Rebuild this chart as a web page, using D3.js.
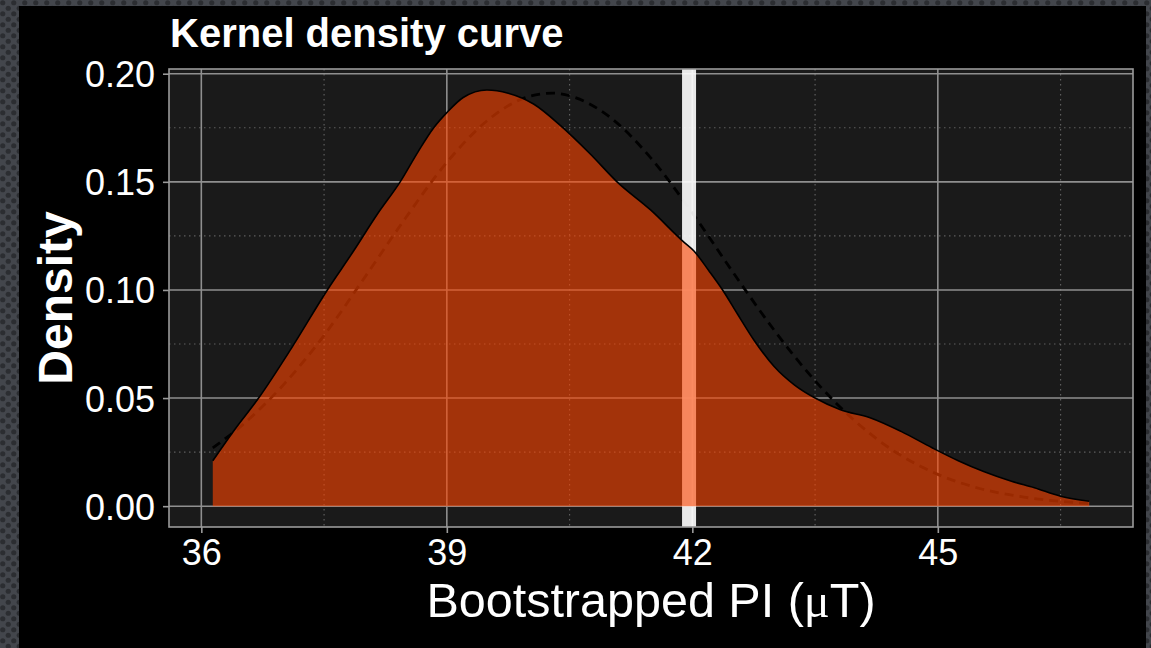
<!DOCTYPE html>
<html>
<head>
<meta charset="utf-8">
<script src="https://cdn.jsdelivr.net/npm/d3@7"></script>
<style>
  html, body { margin: 0; padding: 0; background: #3a3d42; }
  svg { display: block; }
</style>
</head>
<body>
<svg id="chart"></svg>
<script>
// kernel density
var kdeX = [36.14, 36.40, 36.70, 37.10, 37.54, 37.86, 38.15, 38.43, 38.65, 38.84, 39.00, 39.20, 39.49, 39.75, 40.06, 40.39, 40.75, 41.08, 41.49, 41.90, 42.02, 42.20, 42.37, 42.55, 42.75, 43.00, 43.25, 43.50, 43.81, 44.18, 44.55, 44.93, 45.25, 45.56, 45.90, 46.18, 46.50, 46.85];
var kdeY = [0.021, 0.035, 0.050, 0.073, 0.100, 0.118, 0.135, 0.150, 0.164, 0.175, 0.182, 0.189, 0.1925, 0.191, 0.186, 0.176, 0.163, 0.150, 0.137, 0.122, 0.118, 0.109, 0.100, 0.089, 0.077, 0.0646, 0.056, 0.050, 0.0446, 0.0408, 0.0346, 0.027, 0.021, 0.016, 0.0115, 0.0085, 0.0046, 0.0023];

// dashed reference curve
var refX = [36.14, 36.5, 37.0, 37.5, 38.0, 38.5, 39.0, 39.5, 40.0, 40.3, 40.5, 41.0, 41.5, 42.0, 42.5, 43.0, 43.5, 44.0, 44.5, 45.0, 45.5, 46.0, 46.5, 46.85];
var refY = [0.027, 0.0375, 0.056, 0.079, 0.106, 0.1335, 0.159, 0.1785, 0.1894, 0.191, 0.1898, 0.1797, 0.1607, 0.1356, 0.108, 0.0814, 0.058, 0.039, 0.0246, 0.0147, 0.0083, 0.0045, 0.0022, 0.0013];

var observed = 41.96; // vertical marker

var xTicks = [36, 39, 42, 45];
var xMinor = [37.5, 40.5, 43.5, 46.5];
var yTicks = [0, 0.05, 0.10, 0.15, 0.20];
var yMinor = [0.025, 0.075, 0.125, 0.175];

var titleText = "Kernel density curve";
var xTitle = "Bootstrapped PI (";
var yTitle = "Density";

var width = 1151, height = 648;
var font = "'Liberation Sans', Arial, Helvetica, sans-serif";

var svg = d3.select("#chart").attr("width", width).attr("height", height);

// dotted backdrop
var defs = svg.append("defs");
var pat = defs.append("pattern")
    .attr("id", "dots")
    .attr("width", 11).attr("height", 11)
    .attr("patternUnits", "userSpaceOnUse");
pat.append("rect").attr("width", 11).attr("height", 11).attr("fill", "#43464c");
pat.append("circle").attr("cx", 2.75).attr("cy", 2.75).attr("r", 2.6).attr("fill", "#2b2d31");
pat.append("circle").attr("cx", 8.25).attr("cy", 8.25).attr("r", 2.6).attr("fill", "#2b2d31");

svg.append("rect").attr("width", width).attr("height", height).attr("fill", "url(#dots)");
svg.append("rect")
    .attr("x", 19).attr("y", 6)
    .attr("width", 1127).attr("height", height - 6)
    .attr("fill", "#000");

var pl = 169, pr = 1133, pt = 69, pb = 527;

var x = d3.scaleLinear().domain([35.605, 47.385]).range([pl, pr]);
var y = d3.scaleLinear().domain([-0.00963, 0.20218]).range([pb, pt]);

svg.append("rect")
    .attr("x", pl).attr("y", pt)
    .attr("width", pr - pl).attr("height", pb - pt)
    .attr("fill", "#1a1a1a");

var grid = svg.append("g");
grid.selectAll(".xmin").data(xMinor).enter().append("line")
    .attr("x1", d => x(d)).attr("x2", d => x(d))
    .attr("y1", pt).attr("y2", pb)
    .attr("stroke", "#5e5e5e").attr("stroke-width", 1.2)
    .attr("stroke-dasharray", "1.5,3.5");
grid.selectAll(".ymin").data(yMinor).enter().append("line")
    .attr("x1", pl).attr("x2", pr)
    .attr("y1", d => y(d)).attr("y2", d => y(d))
    .attr("stroke", "#5e5e5e").attr("stroke-width", 1.2)
    .attr("stroke-dasharray", "1.5,3.5");
grid.selectAll(".xmaj").data(xTicks).enter().append("line")
    .attr("x1", d => x(d)).attr("x2", d => x(d))
    .attr("y1", pt).attr("y2", pb)
    .attr("stroke", "#8f8f8f").attr("stroke-width", 1.6);
grid.selectAll(".ymaj").data(yTicks).enter().append("line")
    .attr("x1", pl).attr("x2", pr)
    .attr("y1", d => y(d)).attr("y2", d => y(d))
    .attr("stroke", "#8f8f8f").attr("stroke-width", 1.6);

var refData = refX.map((d, i) => [d, refY[i]]);
var kdeData = kdeX.map((d, i) => [d, kdeY[i]]);

var line = d3.line()
    .x(d => x(d[0])).y(d => y(d[1]))
    .curve(d3.curveMonotoneX);

svg.append("path")
    .datum(refData)
    .attr("d", line)
    .attr("fill", "none")
    .attr("stroke", "#000")
    .attr("stroke-width", 2.8)
    .attr("stroke-dasharray", "9,6");

svg.append("line")
    .attr("x1", x(observed)).attr("x2", x(observed))
    .attr("y1", pt).attr("y2", pb)
    .attr("stroke", "#fff").attr("stroke-opacity", 0.9)
    .attr("stroke-width", 14);

var area = d3.area()
    .x(d => x(d[0])).y0(y(0)).y1(d => y(d[1]))
    .curve(d3.curveMonotoneX);

svg.append("path")
    .datum(kdeData)
    .attr("d", area)
    .attr("fill", "#ff4500")
    .attr("fill-opacity", 0.6);

svg.append("path")
    .datum(kdeData)
    .attr("d", line)
    .attr("fill", "none")
    .attr("stroke", "#000")
    .attr("stroke-width", 1.6);

svg.append("rect")
    .attr("x", pl).attr("y", pt)
    .attr("width", pr - pl).attr("height", pb - pt)
    .attr("fill", "none")
    .attr("stroke", "#9a9a9a").attr("stroke-width", 1.6);

// axes
var yAxis = svg.append("g")
    .attr("transform", "translate(" + pl + ",0)")
    .call(d3.axisLeft(y).tickValues(yTicks).tickFormat(d3.format(".2f")).tickSize(6).tickPadding(8));
var xAxis = svg.append("g")
    .attr("transform", "translate(0," + pb + ")")
    .call(d3.axisBottom(x).tickValues(xTicks).tickFormat(d3.format("d")).tickSize(6).tickPadding(6));

[xAxis, yAxis].forEach(function(a) {
    a.select(".domain").remove();
    a.selectAll(".tick line").attr("stroke", "#9a9a9a").attr("stroke-width", 1.6);
    a.selectAll(".tick text")
        .attr("fill", "#fff")
        .style("font-family", font)
        .style("font-size", "36px");
});
yAxis.selectAll(".tick text").attr("dy", "0.36em");
xAxis.selectAll(".tick text").attr("dy", "0.72em");

svg.append("text")
    .attr("x", 170).attr("y", 47)
    .attr("fill", "#fff")
    .style("font-family", font)
    .style("font-weight", "bold")
    .style("font-size", "40px")
    .text(titleText);

var xt = svg.append("text")
    .attr("x", (pl + pr) / 2).attr("y", 617)
    .attr("text-anchor", "middle")
    .attr("fill", "#fff")
    .style("font-family", font)
    .style("font-size", "48.5px");
xt.append("tspan").text(xTitle);
xt.append("tspan").style("font-family", "'Liberation Serif', 'DejaVu Serif', serif").text("\u03BC");
xt.append("tspan").text("T)");

svg.append("text")
    .attr("transform", "translate(72," + (pt + pb) / 2 + ") rotate(-90)")
    .attr("text-anchor", "middle")
    .attr("fill", "#fff")
    .style("font-family", font)
    .style("font-weight", "bold")
    .style("font-size", "48px")
    .text(yTitle);
</script>
</body>
</html>
